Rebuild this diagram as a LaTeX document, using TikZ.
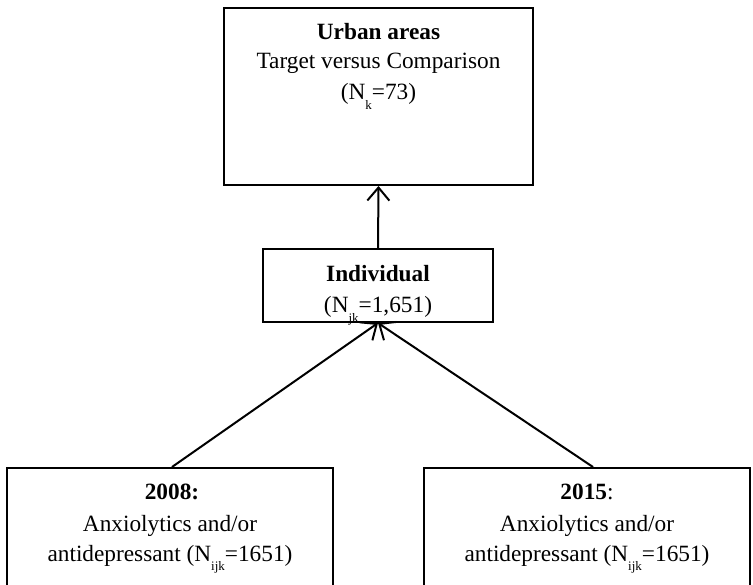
\documentclass[tikz,border=0pt]{standalone}
\usepackage{fontspec}
\setmainfont{Liberation Serif}
\usetikzlibrary{arrows.meta}
\newcommand{\lowsub}[1]{\raisebox{-0.42em}{\fontsize{13}{13}\selectfont #1}}
\begin{document}
\begin{tikzpicture}[x=1pt,y=-1pt,
  >={Straight Barb[length=13pt,width=22pt]},
  box/.style={draw, line width=2pt, inner sep=0pt},
  txt/.style={anchor=base, inner sep=0pt, font=\fontsize{23.3}{28}\selectfont},
  arr/.style={line width=2pt, ->}]
\useasboundingbox (0,0) rectangle (753,585);
\clip (0,0) rectangle (753,585);
\fill[white] (0,0) rectangle (753,585);
% boxes
\node[box, minimum width=309pt, minimum height=177pt] (urban) at (378.5,96.5) {};
\node[box, minimum width=230pt, minimum height=73pt] (indiv) at (378,285.5) {};
\node[box, minimum width=326pt, minimum height=160pt] (left) at (170,548) {};
\node[box, minimum width=326pt, minimum height=160pt] (right) at (587,548) {};
% texts
\node[txt] (u1) at (378.5,40) {\textbf{Urban areas}};
\node[txt] (u2) at (378.5,69) {Target versus Comparison};
\node[txt] (u3) at (378.5,100) {(N\lowsub{k}=73)};
\node[txt] (i1) at (378,282) {\textbf{Individual}};
\node[txt] (i2) at (378,313) {(N\lowsub{jk}=1,651)};
\node[txt] (l1) at (172,499) {\textbf{2008:}};
\node[txt] (l2) at (170,531) {Anxiolytics and/or};
\node[txt] (l3) at (170,561) {antidepressant (N\lowsub{ijk}=1651)};
\node[txt] (r1) at (587,499) {\textbf{2015}:};
\node[txt] (r2) at (587,531) {Anxiolytics and/or};
\node[txt] (r3) at (587,561) {antidepressant (N\lowsub{ijk}=1651)};
% connectors
\draw[arr] (indiv.north) -- (urban.south);
\draw[arr] ([xshift=2pt]left.north) -- (indiv.south);
\draw[arr] ([xshift=6pt]right.north) -- (indiv.south);
\end{tikzpicture}
\end{document}
